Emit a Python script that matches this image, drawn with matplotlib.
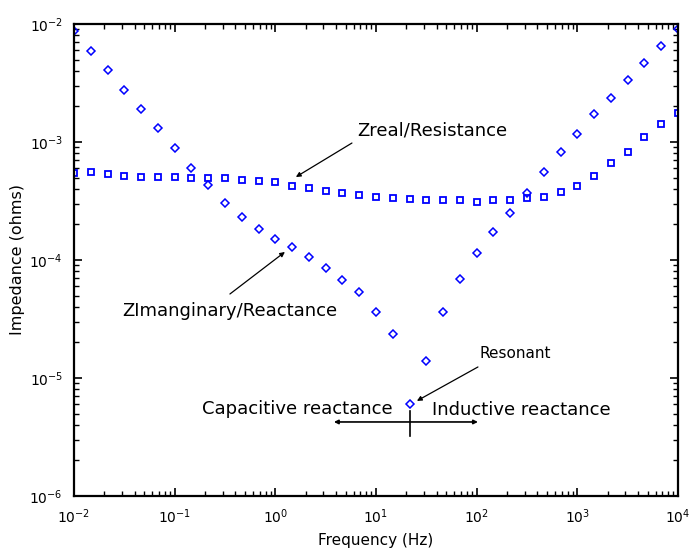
import matplotlib
matplotlib.use('Agg')
import matplotlib.pyplot as plt

plt.rcParams['font.family'] = ['DejaVu Sans']
plt.rcParams['mathtext.default'] = 'regular'

# Frequency sweep: 6 points per decade, 1e-2 .. 1e4 Hz
freq = [10 ** (k / 6) for k in range(-12, 25)]

# Real part (resistance), ohms
z_real = [
    5.45e-4, 5.57e-4, 5.36e-4, 5.15e-4, 5.05e-4, 5.05e-4, 5.05e-4,
    4.95e-4, 4.95e-4, 4.95e-4, 4.76e-4, 4.67e-4, 4.58e-4, 4.24e-4,
    4.07e-4, 3.85e-4, 3.70e-4, 3.56e-4, 3.42e-4, 3.35e-4, 3.29e-4,
    3.22e-4, 3.22e-4, 3.22e-4, 3.10e-4, 3.22e-4, 3.22e-4, 3.35e-4,
    3.42e-4, 3.77e-4, 4.24e-4, 5.15e-4, 6.64e-4, 8.20e-4, 1.10e-3,
    1.42e-3, 1.76e-3,
]

# Imaginary part magnitude (reactance), ohms
z_imag = [
    8.7e-3, 5.9e-3, 4.07e-3, 2.76e-3, 1.9e-3, 1.31e-3, 8.9e-4,
    6.0e-4, 4.3e-4, 3.04e-4, 2.31e-4, 1.83e-4, 1.51e-4, 1.29e-4,
    1.06e-4, 8.55e-5, 6.77e-5, 5.36e-5, 3.63e-5, 2.36e-5, 6.0e-6,
    1.39e-5, 3.63e-5, 6.9e-5, 1.15e-4, 1.73e-4, 2.5e-4, 3.7e-4,
    5.57e-4, 8.2e-4, 1.17e-3, 1.73e-3, 2.36e-3, 3.35e-3, 4.67e-3,
    6.5e-3, 9.1e-3,
]

f_res = freq[20]

fig = plt.figure(figsize=(6.89, 5.54), dpi=100)
ax = fig.add_axes([0.1074, 0.1047, 0.8766, 0.852])

ax.loglog(freq, z_real, linestyle='none', marker='s', markersize=5,
          markerfacecolor='none', markeredgecolor='#0000ff', markeredgewidth=1.3)
ax.loglog(freq, z_imag, linestyle='none', marker='D', markersize=3.6,
          markerfacecolor='none', markeredgecolor='#0000ff', markeredgewidth=1.1)

ax.set_xlim(1e-2, 1e4)
ax.set_ylim(1e-6, 1e-2)

ax.set_xlabel('Frequency (Hz)', fontsize=11, labelpad=5)
ax.set_ylabel('Impedance (ohms)', fontsize=11.5, labelpad=3)

for s in ax.spines.values():
    s.set_linewidth(1.6)
ax.tick_params(which='both', direction='in', top=True, right=True, labelsize=10)
ax.tick_params(which='major', length=6, width=1.2, pad=8)
ax.tick_params(which='minor', length=3.5, width=1.0)

arrow = dict(arrowstyle='-|>', color='black', lw=0.9, mutation_scale=7,
             shrinkA=0, shrinkB=0)

# Resistance curve label
ax.text(36, 1.24e-3, 'Zreal/Resistance', fontsize=13, ha='center', va='center')
ax.annotate('', xy=(1.6, 5.05e-4), xytext=(5.77, 9.8e-4), arrowprops=arrow)

# Reactance curve label
ax.text(0.354, 3.7e-5, 'ZImanginary/Reactance', fontsize=13, ha='center', va='center')
ax.annotate('', xy=(1.245, 1.17e-4), xytext=(0.354, 5.15e-5), arrowprops=arrow)

# Resonance point
ax.text(240, 1.6e-5, 'Resonant', fontsize=11, ha='center', va='center')
ax.annotate('', xy=(25.5, 6.4e-6), xytext=(103, 1.24e-5), arrowprops=arrow)

# Capacitive / inductive regions around resonance
ax.text(1.66, 5.46e-6, 'Capacitive reactance', fontsize=13, ha='center', va='center')
ax.text(278, 5.36e-6, 'Inductive reactance', fontsize=13, ha='center', va='center')
ax.annotate('', xy=(103, 4.24e-6), xytext=(3.82, 4.24e-6),
            arrowprops=dict(arrowstyle='<|-|>', color='black', lw=1.2,
                            mutation_scale=6, shrinkA=0, shrinkB=0))
ax.plot([f_res, f_res], [5.3e-6, 3.24e-6], color='black', lw=1.2)

plt.savefig('out.png', dpi=100)
